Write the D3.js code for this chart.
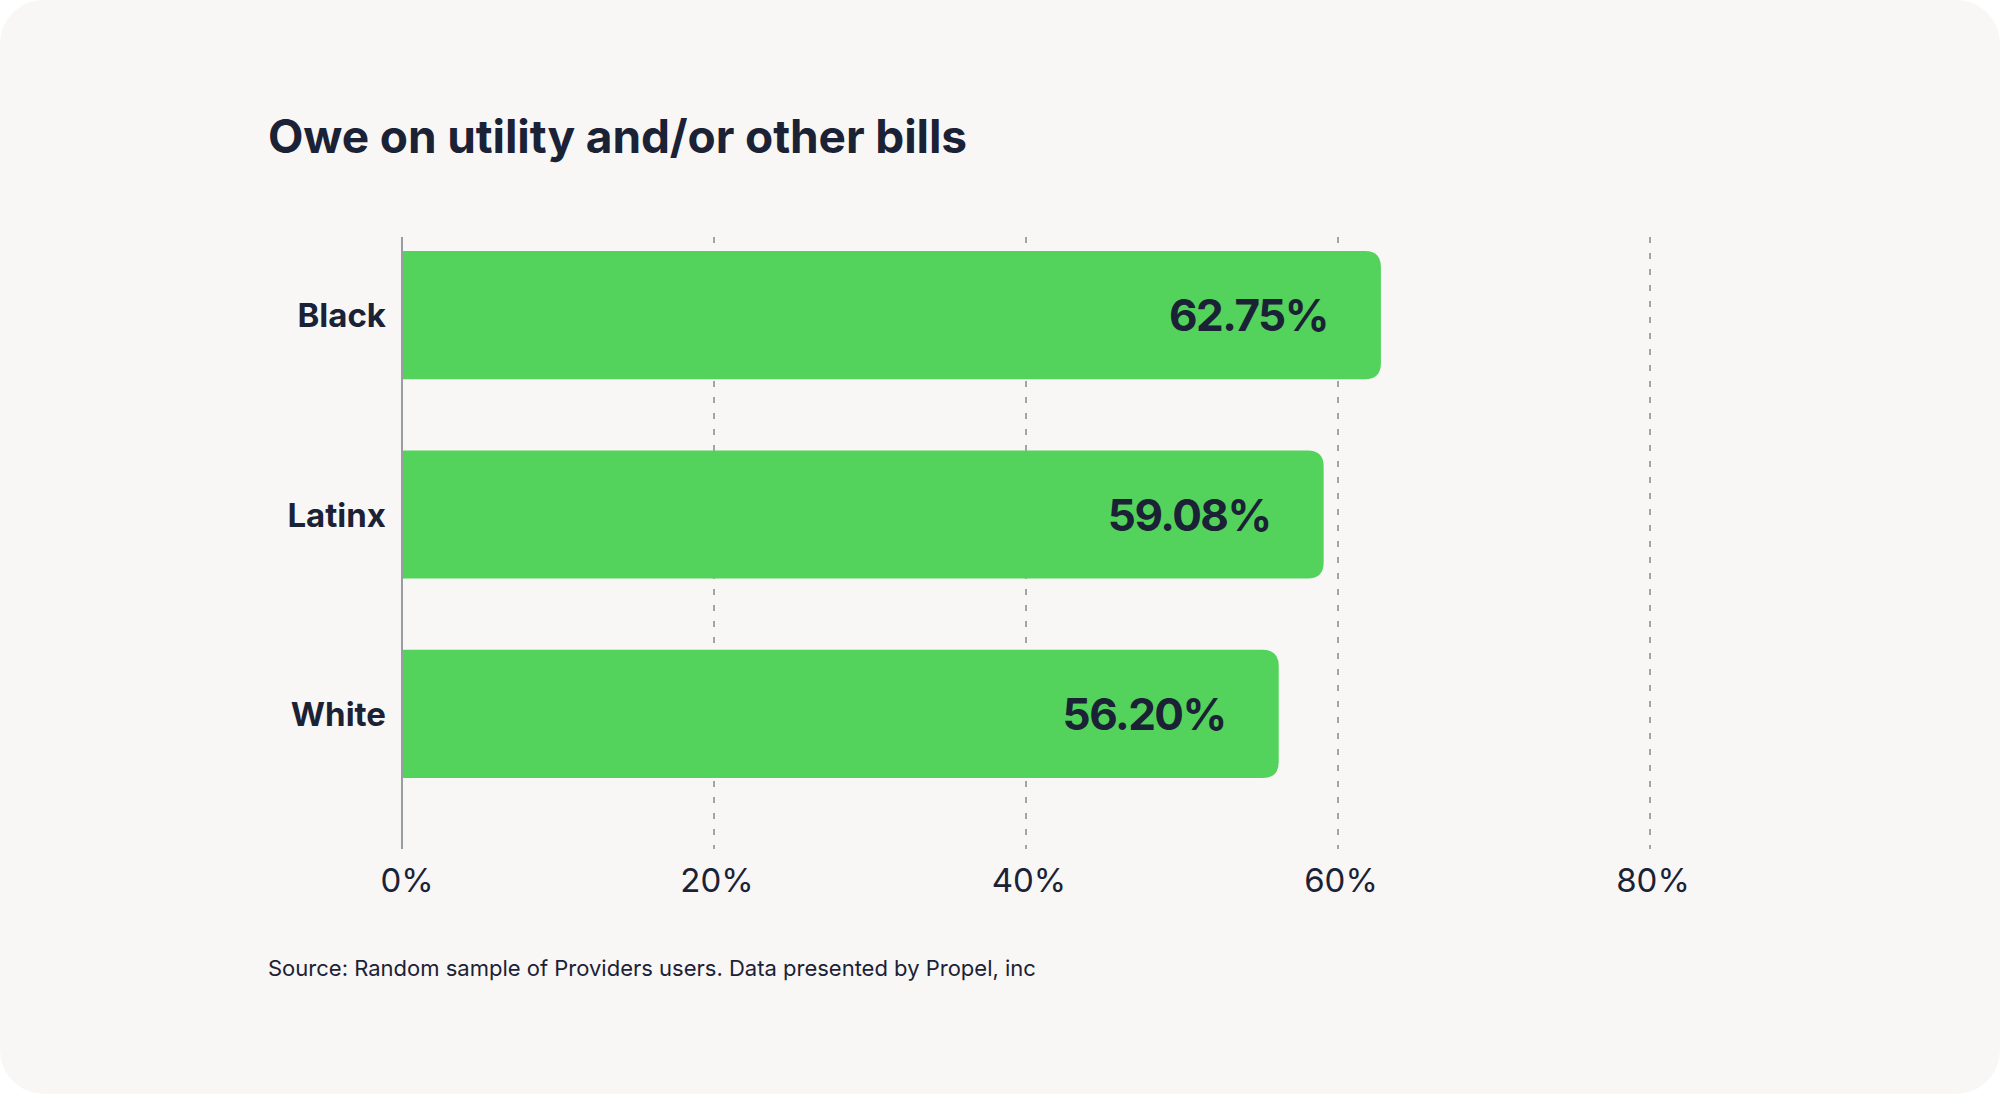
<!DOCTYPE html>
<html>
<head>
<meta charset="utf-8">
<script src="https://cdn.jsdelivr.net/npm/d3@7"></script>
<style>
  body { margin: 0; background: #ffffff; }
  text { font-family: Inter, "Noto Sans", sans-serif; fill: #1b2236; }
</style>
</head>
<body>
<div id="chart"></div>
<script>
var groups = ["Black", "Latinx", "White"];
var values = [62.75, 59.08, 56.20];
var ticks = [0, 20, 40, 60, 80];

var svgWidth = 2000;
var svgHeight = 1094;

var svg = d3.select("#chart")
  .append("svg")
  .attr("width", svgWidth)
  .attr("height", svgHeight);

// card background
svg.append("rect")
  .attr("width", svgWidth)
  .attr("height", svgHeight)
  .attr("rx", 44)
  .attr("fill", "#f8f7f5");

var data = groups.map((g, i) => ({ group: g, value: values[i] }));

// Scale functions
var xScale = d3.scaleLinear()
  .domain([0, 80])
  .range([402, 1650]);

var yScale = d3.scaleBand()
  .domain(groups)
  .range([215.5, 813.5])
  .paddingInner(0.357)
  .paddingOuter(0.178);

var gridTop = 237, gridBottom = 849;

// dashed gridlines
svg.selectAll(".grid")
  .data(ticks.filter(t => t > 0))
  .enter()
  .append("line")
  .attr("x1", d => xScale(d))
  .attr("x2", d => xScale(d))
  .attr("y1", gridTop)
  .attr("y2", gridBottom)
  .attr("stroke", "#a3a4a8")
  .attr("stroke-width", 2)
  .attr("stroke-dasharray", "6,10");

// bars with rounded right end
var r = 16;
svg.selectAll(".bar")
  .data(data)
  .enter()
  .append("path")
  .attr("fill", "#53d35b")
  .attr("d", function(d) {
    var x0 = xScale(0), x1 = xScale(d.value);
    var y0 = yScale(d.group), h = yScale.bandwidth();
    return `M${x0},${y0}H${x1 - r}Q${x1},${y0} ${x1},${y0 + r}V${y0 + h - r}Q${x1},${y0 + h} ${x1 - r},${y0 + h}H${x0}Z`;
  });

// y axis line
svg.append("line")
  .attr("x1", xScale(0))
  .attr("x2", xScale(0))
  .attr("y1", gridTop)
  .attr("y2", gridBottom)
  .attr("stroke", "#9a9ca3")
  .attr("stroke-width", 2);

// value labels
svg.selectAll(".val")
  .data(data)
  .enter()
  .append("text")
  .attr("x", d => xScale(d.value) - 53)
  .attr("y", d => yScale(d.group) + yScale.bandwidth() / 2 + 16)
  .attr("text-anchor", "end")
  .attr("font-size", 44)
  .attr("font-weight", 700)
  .attr("letter-spacing", -1.5)
  .text(d => d.value.toFixed(2) + "%");

// category labels
svg.selectAll(".cat")
  .data(data)
  .enter()
  .append("text")
  .attr("x", 386)
  .attr("y", d => yScale(d.group) + yScale.bandwidth() / 2 + 12)
  .attr("text-anchor", "end")
  .attr("font-size", 33)
  .attr("font-weight", 700)
  .text(d => d.group);

// x tick labels
svg.selectAll(".tick-label")
  .data(ticks)
  .enter()
  .append("text")
  .attr("x", d => xScale(d) + (d === 0 ? 5 : 3))
  .attr("y", 892)
  .attr("text-anchor", "middle")
  .attr("font-size", 33)
  .attr("font-weight", 400)
  .text(d => d + "%");

// title
svg.append("text")
  .attr("x", 268)
  .attr("y", 153)
  .attr("font-size", 46)
  .attr("font-weight", 700)
  .attr("letter-spacing", -0.1)
  .text("Owe on utility and/or other bills");

// source
svg.append("text")
  .attr("x", 268)
  .attr("y", 976)
  .attr("font-size", 22)
  .attr("font-weight", 400)
  .text("Source: Random sample of Providers users. Data presented by Propel, inc");
</script>
</body>
</html>
